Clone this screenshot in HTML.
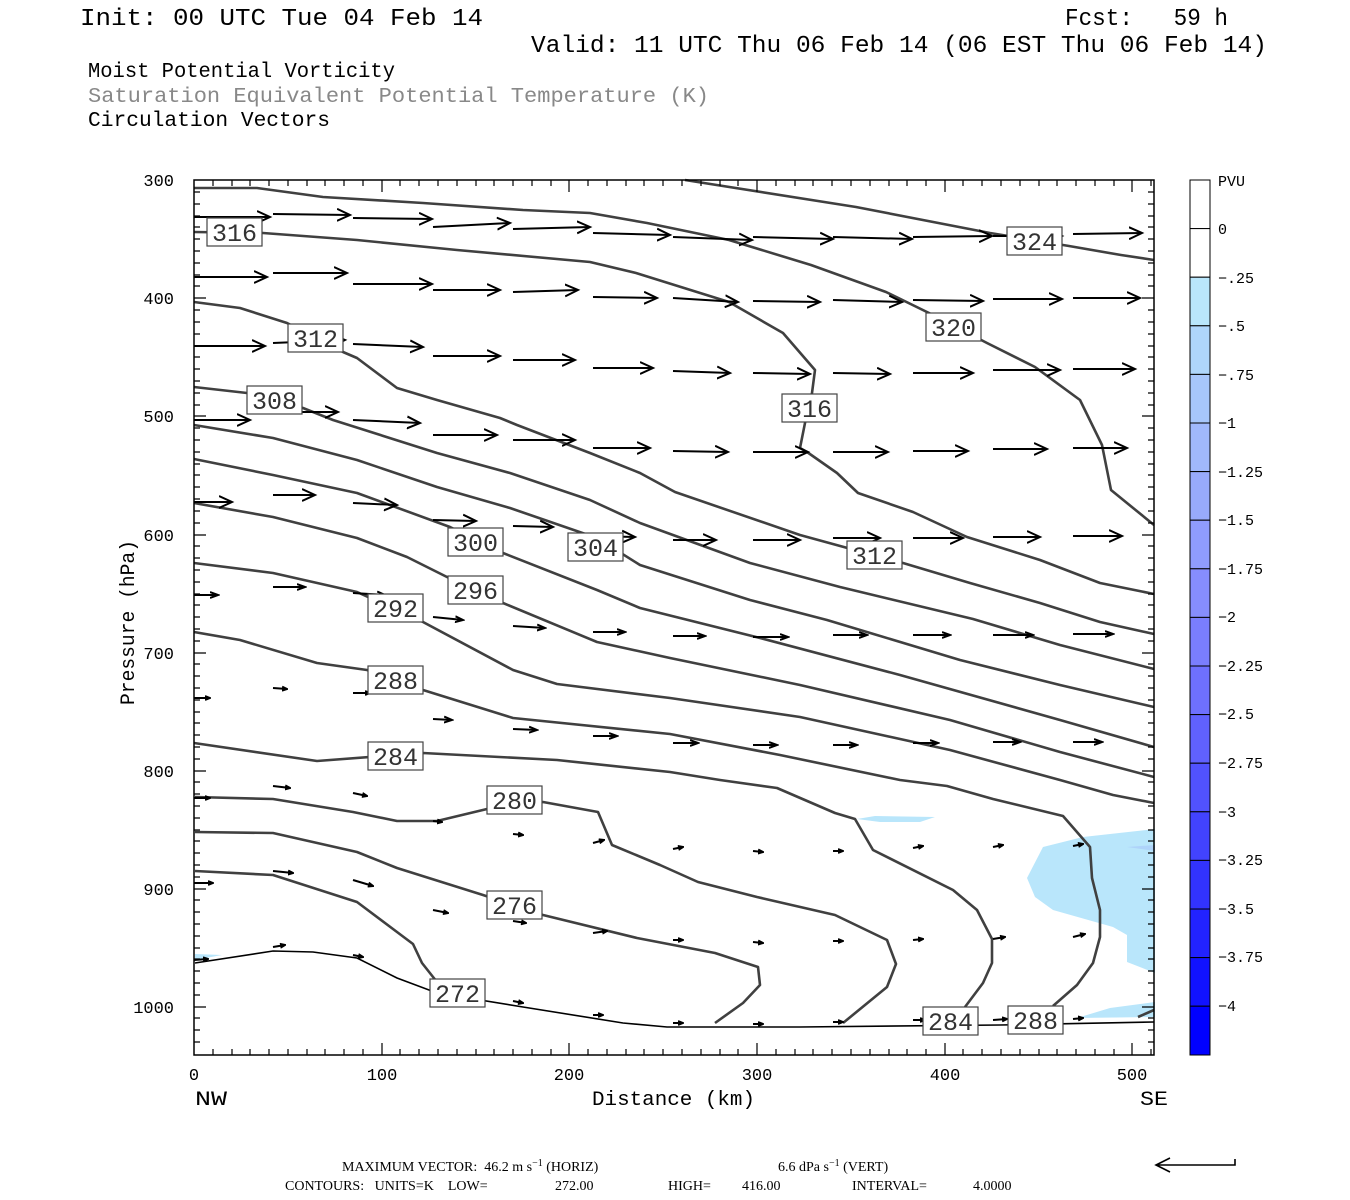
<!DOCTYPE html>
<html><head><meta charset="utf-8"><style>
html,body{margin:0;padding:0;background:#fff;}
svg{display:block;}
text{font-family:"Liberation Mono",monospace;white-space:pre;}
.c{fill:none;stroke:#404040;stroke-width:2.6;stroke-linejoin:round;}
.v{stroke:#000;stroke-width:2;fill:none;}
.lb{fill:#fff;stroke:#444;stroke-width:1.2;}
.lt{font-size:25px;fill:#333;text-anchor:middle;}
.tk{font-size:17px;fill:#000;}
.cb{font-size:15px;fill:#000;}
.ft{font-family:"Liberation Serif",serif;font-size:14px;}
</style></head><body>
<svg width="1350" height="1200" viewBox="0 0 1350 1200" xmlns="http://www.w3.org/2000/svg" xml:space="preserve">
<defs>
<marker id="a" markerUnits="userSpaceOnUse" markerWidth="16" markerHeight="14" refX="13" refY="7" orient="auto"><path d="M0,1 L13,7 L0,13" fill="none" stroke="#000" stroke-width="2"/></marker>
<marker id="b" markerUnits="userSpaceOnUse" markerWidth="10" markerHeight="8" refX="8" refY="4" orient="auto"><path d="M0,1 L8,4 L0,7" fill="none" stroke="#000" stroke-width="2"/></marker>
<marker id="s" markerUnits="userSpaceOnUse" markerWidth="6" markerHeight="6" refX="5" refY="3" orient="auto"><path d="M0,1 L5,3 L0,5" fill="none" stroke="#000" stroke-width="2"/></marker>
</defs>

<!-- header -->
<text x="80" y="25" font-size="24" textLength="403" lengthAdjust="spacingAndGlyphs">Init: 00 UTC Tue 04 Feb 14</text>
<text x="1065" y="25" font-size="24" textLength="163" lengthAdjust="spacingAndGlyphs">Fcst:   59 h</text>
<text x="531" y="52" font-size="24" textLength="736" lengthAdjust="spacingAndGlyphs">Valid: 11 UTC Thu 06 Feb 14 (06 EST Thu 06 Feb 14)</text>
<text x="88" y="77" font-size="21" textLength="307" lengthAdjust="spacingAndGlyphs">Moist Potential Vorticity</text>
<text x="88" y="102" font-size="21" fill="#888" textLength="621" lengthAdjust="spacingAndGlyphs">Saturation Equivalent Potential Temperature (K)</text>
<text x="88" y="126" font-size="21" textLength="242" lengthAdjust="spacingAndGlyphs">Circulation Vectors</text>

<!-- shading -->
<g fill="#b9e6fb">
<polygon points="857,819 875,816 935,817 920,822 880,822"/>
<polygon points="1043,847 1083,837 1155,829 1155,973 1127,962 1127,935 1113,927 1053,910 1035,897 1027,878"/>
<polygon points="1077,1018 1110,1008 1155,1002 1155,1017"/>
<polygon points="195,954 222,955 195,960"/>
</g>
<polygon points="1127,847 1155,845 1155,851" fill="#aed3fa"/>

<!-- contours -->
<g class="c">
<polyline points="685,180 856,207 990,233 1069,246 1121,255 1154,260"/>
<polyline points="194,188 257,188 323,197 423,203 523,210 590,213 647,223 729,240 811,265 886,292 929,313 987,343 1035,367 1080,400 1102,445 1111,490 1154,525"/>
<polyline points="194,232 263,233 357,240 457,250 590,262 636,273 729,302 783,333 815,370 812,393 805,423 800,448 807,452 837,473 858,493 913,512 967,537 1040,560 1100,583 1154,594"/>
<polyline points="194,302 240,308 287,323 343,352 357,358 397,388 437,400 500,418 517,425 590,453 640,473 675,492 800,535 873,555 903,563 970,583 1040,603 1100,622 1154,634"/>
<polyline points="194,387 247,393 303,408 333,420 437,453 510,473 590,500 640,523 750,563 840,587 973,619 1060,645 1154,669"/>
<polyline points="194,425 273,438 357,460 437,487 510,508 597,538 640,565 750,600 827,620 960,660 1060,685 1154,707"/>
<polyline points="194,459 273,475 357,493 450,527 503,553 597,590 640,608 760,638 900,675 1060,720 1154,747"/>
<polyline points="194,503 273,517 357,538 407,557 447,577 503,603 597,642 670,658 800,685 950,720 1060,752 1154,777"/>
<polyline points="194,563 273,573 357,592 423,622 513,670 557,684 670,698 800,717 950,750 1060,780 1113,795 1154,803"/>
<polyline points="194,632 240,640 317,663 367,670 423,690 513,718 670,734 780,755 900,780 947,786 993,799 1063,816 1090,847 1092,878 1100,910 1100,937 1093,963 1077,985 1053,1006"/>
<polyline points="194,743 317,761 423,753 557,760 670,772 720,780 777,788 835,813 855,819 873,850 953,890 977,910 992,939 992,963 983,983 965,1007"/>
<polyline points="195,797 273,799 353,812 397,821 437,821 487,809 543,802 598,812 612,845 660,865 698,882 757,897 835,915 887,940 896,964 887,987 843,1023"/>
<polyline points="195,832 273,833 357,852 397,868 483,895 543,915 637,938 715,953 758,967 760,985 743,1003 715,1023"/>
<polyline points="195,871 273,875 357,902 397,932 413,944 422,963 437,982"/>
<polyline points="1138,1017 1154,1010"/>
</g>
<polyline points="195,963 273,951 313,952 357,958 397,978 437,993 523,1007 623,1023 667,1027 800,1027 1000,1025 1154,1022" fill="none" stroke="#000" stroke-width="1.6"/>

<!-- vectors -->
<g class="v" marker-end="url(#a)">
<line x1="194" y1="217" x2="270" y2="217"/><line x1="273" y1="214" x2="350" y2="215"/><line x1="353" y1="218" x2="432" y2="219"/><line x1="433" y1="227" x2="510" y2="223"/><line x1="513" y1="229" x2="590" y2="227"/><line x1="593" y1="233" x2="670" y2="235"/><line x1="673" y1="237" x2="752" y2="240"/><line x1="753" y1="237" x2="833" y2="239"/><line x1="833" y1="237" x2="912" y2="239"/><line x1="913" y1="237" x2="992" y2="236"/><line x1="993" y1="236" x2="1062" y2="236"/><line x1="1073" y1="234" x2="1142" y2="233"/>
<line x1="194" y1="277" x2="267" y2="277"/><line x1="273" y1="273" x2="347" y2="273"/><line x1="353" y1="284" x2="432" y2="284"/><line x1="433" y1="290" x2="500" y2="290"/><line x1="513" y1="292" x2="578" y2="290"/><line x1="593" y1="297" x2="657" y2="298"/><line x1="673" y1="298" x2="738" y2="302"/><line x1="753" y1="301" x2="820" y2="302"/><line x1="833" y1="300" x2="902" y2="302"/><line x1="913" y1="300" x2="983" y2="301"/><line x1="993" y1="299" x2="1062" y2="299"/><line x1="1073" y1="298" x2="1140" y2="298"/>
<line x1="194" y1="346" x2="265" y2="346"/><line x1="273" y1="343" x2="345" y2="340"/><line x1="353" y1="344" x2="423" y2="347"/><line x1="433" y1="356" x2="500" y2="356"/><line x1="513" y1="360" x2="575" y2="360"/><line x1="593" y1="368" x2="653" y2="368"/><line x1="673" y1="371" x2="730" y2="373"/><line x1="753" y1="373" x2="810" y2="374"/><line x1="833" y1="373" x2="890" y2="374"/><line x1="913" y1="373" x2="973" y2="373"/><line x1="993" y1="370" x2="1060" y2="370"/><line x1="1073" y1="369" x2="1135" y2="369"/>
<line x1="194" y1="420" x2="250" y2="420"/><line x1="273" y1="412" x2="338" y2="412"/><line x1="353" y1="420" x2="420" y2="423"/><line x1="433" y1="435" x2="497" y2="435"/><line x1="513" y1="440" x2="575" y2="440"/><line x1="593" y1="448" x2="650" y2="448"/><line x1="673" y1="451" x2="728" y2="452"/><line x1="753" y1="452" x2="808" y2="452"/><line x1="833" y1="452" x2="888" y2="452"/><line x1="913" y1="451" x2="968" y2="451"/><line x1="993" y1="449" x2="1047" y2="449"/><line x1="1073" y1="448" x2="1127" y2="448"/>
<line x1="194" y1="502" x2="232" y2="502"/><line x1="273" y1="495" x2="315" y2="495"/><line x1="353" y1="503" x2="397" y2="505"/><line x1="433" y1="520" x2="476" y2="521"/><line x1="513" y1="526" x2="553" y2="527"/><line x1="593" y1="536" x2="635" y2="537"/><line x1="673" y1="540" x2="716" y2="540"/><line x1="753" y1="540" x2="800" y2="540"/><line x1="833" y1="538" x2="880" y2="538"/><line x1="913" y1="538" x2="963" y2="538"/><line x1="993" y1="537" x2="1040" y2="537"/><line x1="1073" y1="536" x2="1122" y2="536"/>
</g>
<g class="v" marker-end="url(#b)">
<line x1="194" y1="595" x2="218" y2="595"/><line x1="273" y1="587" x2="305" y2="587"/><line x1="353" y1="593" x2="385" y2="595"/><line x1="433" y1="617" x2="463" y2="620"/><line x1="513" y1="626" x2="545" y2="628"/><line x1="593" y1="632" x2="625" y2="632"/><line x1="673" y1="636" x2="705" y2="636"/><line x1="753" y1="637" x2="788" y2="637"/><line x1="833" y1="635" x2="867" y2="635"/><line x1="913" y1="635" x2="950" y2="635"/><line x1="993" y1="635" x2="1033" y2="635"/><line x1="1073" y1="634" x2="1113" y2="634"/>
<line x1="433" y1="719" x2="452" y2="720"/><line x1="513" y1="729" x2="537" y2="730"/><line x1="593" y1="736" x2="617" y2="736"/><line x1="673" y1="743" x2="698" y2="743"/><line x1="753" y1="745" x2="777" y2="745"/><line x1="833" y1="745" x2="857" y2="745"/><line x1="913" y1="743" x2="938" y2="743"/><line x1="993" y1="742" x2="1020" y2="742"/><line x1="1073" y1="742" x2="1102" y2="742"/>
</g>
<g class="v" marker-end="url(#s)">
<line x1="194" y1="698" x2="210" y2="698"/><line x1="273" y1="688" x2="287" y2="689"/><line x1="353" y1="693" x2="370" y2="693"/>
<line x1="194" y1="798" x2="210" y2="798"/><line x1="273" y1="786" x2="290" y2="788"/><line x1="353" y1="793" x2="367" y2="796"/><line x1="433" y1="821" x2="442" y2="822"/><line x1="513" y1="834" x2="523" y2="835"/><line x1="593" y1="843" x2="604" y2="840"/><line x1="673" y1="849" x2="683" y2="847"/><line x1="753" y1="851" x2="763" y2="852"/><line x1="833" y1="851" x2="843" y2="851"/><line x1="913" y1="848" x2="923" y2="846"/><line x1="993" y1="847" x2="1003" y2="845"/><line x1="1073" y1="846" x2="1083" y2="844"/>
<line x1="194" y1="883" x2="213" y2="883"/><line x1="273" y1="871" x2="293" y2="873"/><line x1="353" y1="880" x2="373" y2="886"/><line x1="433" y1="910" x2="448" y2="913"/><line x1="513" y1="921" x2="526" y2="923"/><line x1="593" y1="933" x2="607" y2="931"/><line x1="673" y1="940" x2="683" y2="940"/><line x1="753" y1="942" x2="763" y2="943"/><line x1="833" y1="941" x2="843" y2="941"/><line x1="913" y1="940" x2="923" y2="939"/><line x1="993" y1="939" x2="1005" y2="937"/><line x1="1073" y1="937" x2="1085" y2="934"/>
<line x1="194" y1="960" x2="208" y2="959"/><line x1="273" y1="947" x2="285" y2="945"/><line x1="353" y1="955" x2="363" y2="957"/><line x1="433" y1="989" x2="445" y2="991"/><line x1="513" y1="1001" x2="523" y2="1003"/><line x1="593" y1="1015" x2="603" y2="1015"/><line x1="673" y1="1023" x2="683" y2="1023"/><line x1="753" y1="1024" x2="763" y2="1024"/><line x1="833" y1="1022" x2="843" y2="1022"/><line x1="913" y1="1020" x2="925" y2="1020"/><line x1="993" y1="1020" x2="1007" y2="1019"/><line x1="1073" y1="1019" x2="1083" y2="1018"/>
</g>

<!-- contour labels -->
<g>
<rect class="lb" x="207" y="218" width="55" height="28"/><text class="lt" x="234.5" y="241">316</text>
<rect class="lb" x="288" y="324" width="55" height="28"/><text class="lt" x="315.5" y="347">312</text>
<rect class="lb" x="247" y="386" width="55" height="28"/><text class="lt" x="274.5" y="409">308</text>
<rect class="lb" x="448" y="528" width="55" height="28"/><text class="lt" x="475.5" y="551">300</text>
<rect class="lb" x="568" y="533" width="55" height="28"/><text class="lt" x="595.5" y="556">304</text>
<rect class="lb" x="448" y="576" width="55" height="28"/><text class="lt" x="475.5" y="599">296</text>
<rect class="lb" x="368" y="594" width="55" height="28"/><text class="lt" x="395.5" y="617">292</text>
<rect class="lb" x="368" y="666" width="55" height="28"/><text class="lt" x="395.5" y="689">288</text>
<rect class="lb" x="368" y="742" width="55" height="28"/><text class="lt" x="395.5" y="765">284</text>
<rect class="lb" x="487" y="786" width="55" height="28"/><text class="lt" x="514.5" y="809">280</text>
<rect class="lb" x="487" y="891" width="55" height="28"/><text class="lt" x="514.5" y="914">276</text>
<rect class="lb" x="430" y="979" width="55" height="28"/><text class="lt" x="457.5" y="1002">272</text>
<rect class="lb" x="782" y="394" width="55" height="28"/><text class="lt" x="809.5" y="417">316</text>
<rect class="lb" x="926" y="313" width="55" height="28"/><text class="lt" x="953.5" y="336">320</text>
<rect class="lb" x="847" y="541" width="55" height="28"/><text class="lt" x="874.5" y="564">312</text>
<rect class="lb" x="1007" y="227" width="55" height="28"/><text class="lt" x="1034.5" y="250">324</text>
<rect class="lb" x="923" y="1007" width="55" height="28"/><text class="lt" x="950.5" y="1030">284</text>
<rect class="lb" x="1008" y="1006" width="55" height="28"/><text class="lt" x="1035.5" y="1029">288</text>
</g>

<!-- axes frame -->
<rect x="194" y="180" width="960" height="875" fill="none" stroke="#000" stroke-width="1.5"/>
<g stroke="#000" stroke-width="1.2">
<path d="M213,180v6M232,180v6M250,180v6M269,180v6M288,180v6M307,180v6M325,180v6M344,180v6M363,180v6M382,180v12M400,180v6M419,180v6M438,180v6M457,180v6M476,180v6M494,180v6M513,180v6M532,180v6M551,180v6M569,180v12M588,180v6M607,180v6M626,180v6M644,180v6M663,180v6M682,180v6M701,180v6M720,180v6M738,180v6M757,180v12M776,180v6M795,180v6M813,180v6M832,180v6M851,180v6M870,180v6M889,180v6M907,180v6M926,180v6M945,180v12M963,180v6M982,180v6M1001,180v6M1020,180v6M1039,180v6M1057,180v6M1076,180v6M1095,180v6M1114,180v6M1132,180v12M1151,180v6"/>
<path d="M213,1055v-6M232,1055v-6M250,1055v-6M269,1055v-6M288,1055v-6M307,1055v-6M325,1055v-6M344,1055v-6M363,1055v-6M382,1055v-12M400,1055v-6M419,1055v-6M438,1055v-6M457,1055v-6M476,1055v-6M494,1055v-6M513,1055v-6M532,1055v-6M551,1055v-6M569,1055v-12M588,1055v-6M607,1055v-6M626,1055v-6M644,1055v-6M663,1055v-6M682,1055v-6M701,1055v-6M720,1055v-6M738,1055v-6M757,1055v-12M776,1055v-6M795,1055v-6M813,1055v-6M832,1055v-6M851,1055v-6M870,1055v-6M889,1055v-6M907,1055v-6M926,1055v-6M945,1055v-12M963,1055v-6M982,1055v-6M1001,1055v-6M1020,1055v-6M1039,1055v-6M1057,1055v-6M1076,1055v-6M1095,1055v-6M1114,1055v-6M1132,1055v-12M1151,1055v-6"/>
<path d="M194,192h6M194,204h6M194,216h6M194,227h6M194,239h6M194,251h6M194,263h6M194,275h6M194,286h6M194,298h12M194,310h6M194,322h6M194,334h6M194,346h6M194,357h6M194,369h6M194,381h6M194,393h6M194,405h6M194,416h12M194,428h6M194,440h6M194,452h6M194,464h6M194,475h6M194,487h6M194,499h6M194,511h6M194,523h6M194,535h12M194,546h6M194,558h6M194,570h6M194,582h6M194,594h6M194,605h6M194,617h6M194,629h6M194,641h6M194,653h12M194,664h6M194,676h6M194,688h6M194,700h6M194,712h6M194,723h6M194,735h6M194,747h6M194,759h6M194,771h12M194,782h6M194,794h6M194,806h6M194,818h6M194,830h6M194,841h6M194,853h6M194,865h6M194,877h6M194,889h12M194,900h6M194,912h6M194,924h6M194,936h6M194,948h6M194,959h6M194,971h6M194,983h6M194,995h6M194,1007h12M194,1018h6M194,1030h6M194,1042h6"/>
<path d="M1154,192h-6M1154,204h-6M1154,216h-6M1154,227h-6M1154,239h-6M1154,251h-6M1154,263h-6M1154,275h-6M1154,286h-6M1154,298h-12M1154,310h-6M1154,322h-6M1154,334h-6M1154,346h-6M1154,357h-6M1154,369h-6M1154,381h-6M1154,393h-6M1154,405h-6M1154,416h-12M1154,428h-6M1154,440h-6M1154,452h-6M1154,464h-6M1154,475h-6M1154,487h-6M1154,499h-6M1154,511h-6M1154,523h-6M1154,535h-12M1154,546h-6M1154,558h-6M1154,570h-6M1154,582h-6M1154,594h-6M1154,605h-6M1154,617h-6M1154,629h-6M1154,641h-6M1154,653h-12M1154,664h-6M1154,676h-6M1154,688h-6M1154,700h-6M1154,712h-6M1154,723h-6M1154,735h-6M1154,747h-6M1154,759h-6M1154,771h-12M1154,782h-6M1154,794h-6M1154,806h-6M1154,818h-6M1154,830h-6M1154,841h-6M1154,853h-6M1154,865h-6M1154,877h-6M1154,889h-12M1154,900h-6M1154,912h-6M1154,924h-6M1154,936h-6M1154,948h-6M1154,959h-6M1154,971h-6M1154,983h-6M1154,995h-6M1154,1007h-12M1154,1018h-6M1154,1030h-6M1154,1042h-6"/>
</g>

<!-- axis labels -->
<g class="tk" text-anchor="end">
<text x="174" y="186">300</text><text x="174" y="304">400</text><text x="174" y="422">500</text><text x="174" y="541">600</text><text x="174" y="659">700</text><text x="174" y="777">800</text><text x="174" y="895">900</text><text x="174" y="1013">1000</text>
</g>
<g class="tk" text-anchor="middle">
<text x="194" y="1080">0</text><text x="382" y="1080">100</text><text x="569" y="1080">200</text><text x="757" y="1080">300</text><text x="945" y="1080">400</text><text x="1132" y="1080">500</text>
</g>
<text x="195" y="1105" font-size="20" textLength="32" lengthAdjust="spacingAndGlyphs">NW</text>
<text x="1140" y="1105" font-size="20" textLength="28" lengthAdjust="spacingAndGlyphs">SE</text>
<text x="592" y="1105" font-size="20" textLength="163" lengthAdjust="spacingAndGlyphs">Distance (km)</text>
<text transform="translate(134,705) rotate(-90)" font-size="20" textLength="165" lengthAdjust="spacingAndGlyphs">Pressure (hPa)</text>

<!-- colorbar -->
<g stroke="#000" stroke-width="1">
<rect x="1190" y="180" width="20" height="48.6" fill="#fff"/>
<rect x="1190" y="228.6" width="20" height="48.6" fill="#fff"/>
<rect x="1190" y="277.2" width="20" height="48.6" fill="#b9e6fb"/>
<rect x="1190" y="325.8" width="20" height="48.6" fill="#afd6fb"/>
<rect x="1190" y="374.4" width="20" height="48.6" fill="#a7c6fb"/>
<rect x="1190" y="423" width="20" height="48.6" fill="#a0b8fc"/>
<rect x="1190" y="471.6" width="20" height="48.6" fill="#98aafc"/>
<rect x="1190" y="520.2" width="20" height="48.6" fill="#8f9cfd"/>
<rect x="1190" y="568.8" width="20" height="48.6" fill="#868dfd"/>
<rect x="1190" y="617.4" width="20" height="48.6" fill="#7a7efd"/>
<rect x="1190" y="666" width="20" height="48.6" fill="#6e70fe"/>
<rect x="1190" y="714.6" width="20" height="48.6" fill="#6061fe"/>
<rect x="1190" y="763.2" width="20" height="48.6" fill="#5152fe"/>
<rect x="1190" y="811.8" width="20" height="48.6" fill="#4243fe"/>
<rect x="1190" y="860.4" width="20" height="48.6" fill="#3233fe"/>
<rect x="1190" y="909" width="20" height="48.6" fill="#2223ff"/>
<rect x="1190" y="957.6" width="20" height="48.6" fill="#1112ff"/>
<rect x="1190" y="1006.2" width="20" height="48.8" fill="#0000ff"/>
</g>
<g class="cb">
<text x="1218" y="186">PVU</text>
<text x="1218" y="234">0</text>
<text x="1218" y="283">−.25</text>
<text x="1218" y="331">−.5</text>
<text x="1218" y="380">−.75</text>
<text x="1218" y="428">−1</text>
<text x="1218" y="477">−1.25</text>
<text x="1218" y="525">−1.5</text>
<text x="1218" y="574">−1.75</text>
<text x="1218" y="622">−2</text>
<text x="1218" y="671">−2.25</text>
<text x="1218" y="719">−2.5</text>
<text x="1218" y="768">−2.75</text>
<text x="1218" y="817">−3</text>
<text x="1218" y="865">−3.25</text>
<text x="1218" y="914">−3.5</text>
<text x="1218" y="962">−3.75</text>
<text x="1218" y="1011">−4</text>
</g>

<!-- footer -->
<text class="ft" x="342" y="1171">MAXIMUM VECTOR:  46.2 m s<tspan dy="-5" font-size="10">−1</tspan><tspan dy="5"> (HORIZ)</tspan></text>
<text class="ft" x="778" y="1171">6.6 dPa s<tspan dy="-5" font-size="10">−1</tspan><tspan dy="5"> (VERT)</tspan></text>
<text class="ft" x="285" y="1190">CONTOURS:   UNITS=K    LOW=</text>
<text class="ft" x="555" y="1190">272.00</text>
<text class="ft" x="668" y="1190">HIGH=</text>
<text class="ft" x="742" y="1190">416.00</text>
<text class="ft" x="852" y="1190">INTERVAL=</text>
<text class="ft" x="973" y="1190">4.0000</text>
<path d="M1235,1159v6H1157M1170,1158L1156,1165L1170,1172" fill="none" stroke="#000" stroke-width="1.6"/>
</svg>
</body></html>
